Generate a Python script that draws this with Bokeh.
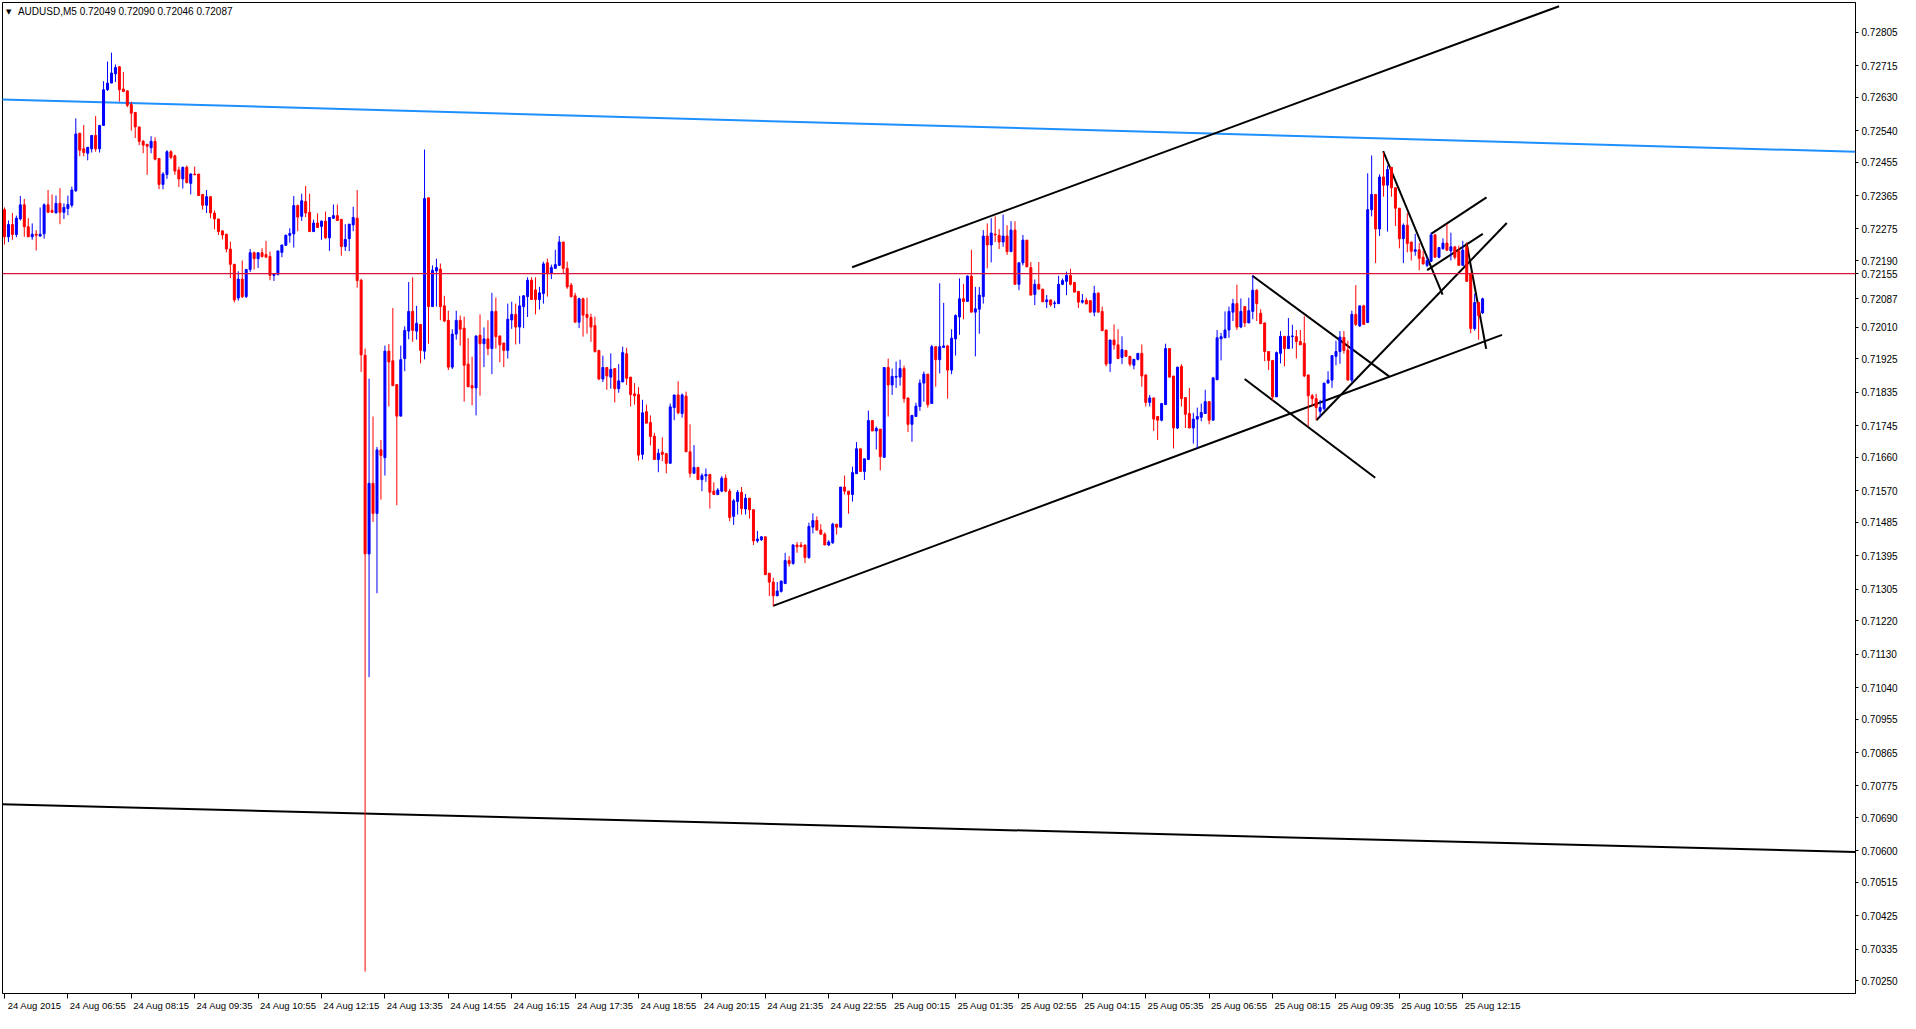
from bokeh.plotting import figure
from bokeh.models import (Range1d, FixedTicker, Label, ColumnDataSource,
                          NumeralTickFormatter, Span)
from bokeh.embed import file_html
from bokeh.resources import INLINE

symbol_title = "AUDUSD,M5  0.72049 0.72090 0.72046 0.72087"

opens = [
    0.72327, 0.72254, 0.72287, 0.72260, 0.72302, 0.72340, 0.72281, 0.72254, 0.72261, 0.72256, 0.72262, 0.72340, 0.72325, 0.72318, 0.72344, 0.72320,
    0.72330, 0.72339, 0.72378, 0.72533, 0.72491, 0.72479, 0.72491, 0.72527, 0.72491, 0.72554, 0.72650, 0.72668, 0.72693, 0.72712, 0.72652, 0.72647,
    0.72610, 0.72589, 0.72550, 0.72511, 0.72503, 0.72494, 0.72511, 0.72465, 0.72395, 0.72422, 0.72483, 0.72472, 0.72434, 0.72410, 0.72441, 0.72398,
    0.72423, 0.72423, 0.72368, 0.72339, 0.72362, 0.72318, 0.72302, 0.72270, 0.72261, 0.72221, 0.72180, 0.72089, 0.72140, 0.72093, 0.72166, 0.72211,
    0.72195, 0.72211, 0.72206, 0.72201, 0.72150, 0.72153, 0.72212, 0.72231, 0.72258, 0.72262, 0.72338, 0.72309, 0.72349, 0.72320, 0.72268, 0.72291,
    0.72282, 0.72296, 0.72251, 0.72304, 0.72311, 0.72301, 0.72228, 0.72249, 0.72286, 0.72304, 0.72137, 0.71935, 0.71400, 0.71590, 0.71509, 0.71680,
    0.71659, 0.71946, 0.71920, 0.71856, 0.71771, 0.71926, 0.72000, 0.72053, 0.72000, 0.72018, 0.71946, 0.72359, 0.72066, 0.72162, 0.72167, 0.72068,
    0.72029, 0.71903, 0.71992, 0.72029, 0.72008, 0.71911, 0.71853, 0.71847, 0.71989, 0.71966, 0.71979, 0.71953, 0.72053, 0.71987, 0.71968, 0.71948,
    0.72030, 0.72045, 0.72011, 0.72066, 0.72093, 0.72137, 0.72111, 0.72085, 0.72101, 0.72184, 0.72156, 0.72169, 0.72177, 0.72240, 0.72169, 0.72124,
    0.72095, 0.72024, 0.72087, 0.72045, 0.72037, 0.72015, 0.71948, 0.71871, 0.71902, 0.71876, 0.71899, 0.71845, 0.71863, 0.71939, 0.71876, 0.71831,
    0.71829, 0.71668, 0.71783, 0.71754, 0.71717, 0.71654, 0.71674, 0.71670, 0.71644, 0.71794, 0.71828, 0.71778, 0.71825, 0.71675, 0.71617, 0.71633,
    0.71600, 0.71610, 0.71614, 0.71569, 0.71560, 0.71569, 0.71604, 0.71569, 0.71501, 0.71541, 0.71566, 0.71521, 0.71550, 0.71519, 0.71435, 0.71438,
    0.71446, 0.71348, 0.71324, 0.71287, 0.71299, 0.71320, 0.71382, 0.71374, 0.71424, 0.71424, 0.71424, 0.71390, 0.71472, 0.71490, 0.71464, 0.71453,
    0.71424, 0.71430, 0.71480, 0.71472, 0.71580, 0.71569, 0.71560, 0.71616, 0.71683, 0.71622, 0.71654, 0.71759, 0.71731, 0.71736, 0.71660, 0.71902,
    0.71855, 0.71876, 0.71876, 0.71899, 0.71820, 0.71749, 0.71770, 0.71797, 0.71860, 0.71884, 0.71805, 0.71958, 0.71923, 0.71956, 0.71960, 0.71895,
    0.71979, 0.72038, 0.72087, 0.72080, 0.72148, 0.72051, 0.72059, 0.72093, 0.72256, 0.72232, 0.72261, 0.72258, 0.72240, 0.72256, 0.72214, 0.72272,
    0.72126, 0.72184, 0.72245, 0.72171, 0.72099, 0.72126, 0.72113, 0.72079, 0.72084, 0.72074, 0.72074, 0.72126, 0.72134, 0.72150, 0.72131, 0.72107,
    0.72078, 0.72083, 0.72082, 0.72051, 0.72102, 0.72053, 0.72003, 0.71913, 0.71976, 0.71963, 0.71929, 0.71948, 0.71932, 0.71908, 0.71924, 0.71940,
    0.71882, 0.71808, 0.71820, 0.71770, 0.71760, 0.71802, 0.71953, 0.71879, 0.71739, 0.71905, 0.71821, 0.71778, 0.71739, 0.71763, 0.71768, 0.71778,
    0.71810, 0.71760, 0.71869, 0.71979, 0.71982, 0.72003, 0.72051, 0.72074, 0.72011, 0.72066, 0.72022, 0.72053, 0.72110, 0.72048, 0.72022, 0.71945,
    0.71921, 0.71823, 0.71940, 0.71986, 0.71953, 0.71985, 0.71985, 0.71972, 0.71967, 0.71882, 0.71826, 0.71818, 0.71784, 0.71791, 0.71860, 0.71868,
    0.71932, 0.71945, 0.71983, 0.71949, 0.71868, 0.72045, 0.72014, 0.72068, 0.72023, 0.72327, 0.72368, 0.72275, 0.72415, 0.72393, 0.72441, 0.72386,
    0.72331, 0.72249, 0.72285, 0.72240, 0.72215, 0.72219, 0.72199, 0.72177, 0.72188, 0.72259, 0.72199, 0.72222, 0.72237, 0.72216, 0.72227, 0.72216,
    0.72177, 0.72227, 0.72156, 0.72007, 0.72077, 0.72049,
]

highs = [
    0.72333, 0.72298, 0.72318, 0.72311, 0.72364, 0.72356, 0.72304, 0.72290, 0.72272, 0.72333, 0.72344, 0.72380, 0.72368, 0.72365, 0.72385, 0.72344,
    0.72365, 0.72389, 0.72573, 0.72533, 0.72555, 0.72495, 0.72527, 0.72579, 0.72554, 0.72673, 0.72726, 0.72750, 0.72718, 0.72712, 0.72698, 0.72647,
    0.72618, 0.72589, 0.72550, 0.72515, 0.72504, 0.72525, 0.72522, 0.72465, 0.72428, 0.72487, 0.72487, 0.72475, 0.72443, 0.72443, 0.72446, 0.72425,
    0.72443, 0.72423, 0.72368, 0.72380, 0.72362, 0.72325, 0.72302, 0.72271, 0.72261, 0.72241, 0.72180, 0.72161, 0.72190, 0.72166, 0.72221, 0.72214,
    0.72211, 0.72223, 0.72243, 0.72214, 0.72156, 0.72216, 0.72232, 0.72260, 0.72277, 0.72364, 0.72341, 0.72370, 0.72391, 0.72370, 0.72300, 0.72317,
    0.72298, 0.72322, 0.72306, 0.72341, 0.72341, 0.72301, 0.72288, 0.72288, 0.72335, 0.72380, 0.72141, 0.71953, 0.71872, 0.71770, 0.71688, 0.71707,
    0.71961, 0.71965, 0.72062, 0.71856, 0.71961, 0.72013, 0.72132, 0.72145, 0.72068, 0.72018, 0.72489, 0.72359, 0.72177, 0.72195, 0.72182, 0.72095,
    0.72055, 0.72005, 0.72055, 0.72042, 0.72039, 0.71981, 0.71931, 0.71987, 0.72045, 0.72010, 0.72029, 0.72103, 0.72090, 0.71987, 0.71968, 0.72074,
    0.72079, 0.72074, 0.72095, 0.72097, 0.72145, 0.72145, 0.72145, 0.72119, 0.72187, 0.72195, 0.72179, 0.72219, 0.72256, 0.72240, 0.72187, 0.72130,
    0.72103, 0.72090, 0.72090, 0.72090, 0.72047, 0.72039, 0.71948, 0.71934, 0.71902, 0.71940, 0.71899, 0.71911, 0.71958, 0.71955, 0.71876, 0.71860,
    0.71849, 0.71815, 0.71802, 0.71773, 0.71726, 0.71683, 0.71714, 0.71672, 0.71805, 0.71828, 0.71865, 0.71832, 0.71837, 0.71749, 0.71693, 0.71633,
    0.71617, 0.71630, 0.71614, 0.71593, 0.71577, 0.71609, 0.71614, 0.71575, 0.71548, 0.71572, 0.71580, 0.71561, 0.71550, 0.71519, 0.71462, 0.71447,
    0.71446, 0.71348, 0.71336, 0.71324, 0.71327, 0.71403, 0.71394, 0.71426, 0.71432, 0.71432, 0.71424, 0.71484, 0.71509, 0.71501, 0.71480, 0.71458,
    0.71437, 0.71484, 0.71480, 0.71580, 0.71611, 0.71569, 0.71635, 0.71701, 0.71683, 0.71656, 0.71786, 0.71759, 0.71743, 0.71736, 0.71902, 0.71926,
    0.71899, 0.71918, 0.71923, 0.71907, 0.71820, 0.71773, 0.71807, 0.71870, 0.71891, 0.71884, 0.71963, 0.71958, 0.72129, 0.72076, 0.71963, 0.72005,
    0.72045, 0.72142, 0.72127, 0.72150, 0.72219, 0.72119, 0.72119, 0.72272, 0.72290, 0.72304, 0.72309, 0.72275, 0.72314, 0.72285, 0.72296, 0.72296,
    0.72184, 0.72259, 0.72245, 0.72186, 0.72139, 0.72186, 0.72113, 0.72097, 0.72084, 0.72082, 0.72149, 0.72142, 0.72160, 0.72168, 0.72131, 0.72107,
    0.72100, 0.72090, 0.72082, 0.72122, 0.72105, 0.72066, 0.72003, 0.71976, 0.72018, 0.72005, 0.71986, 0.71948, 0.71932, 0.71924, 0.71940, 0.71964,
    0.71882, 0.71828, 0.71820, 0.71770, 0.71805, 0.71966, 0.71953, 0.71879, 0.71903, 0.71911, 0.71821, 0.71847, 0.71780, 0.71794, 0.71805, 0.71842,
    0.71810, 0.71876, 0.72003, 0.71995, 0.72053, 0.72066, 0.72087, 0.72125, 0.72088, 0.72066, 0.72090, 0.72150, 0.72113, 0.72059, 0.72022, 0.71945,
    0.71921, 0.71945, 0.72000, 0.71986, 0.72035, 0.72017, 0.72003, 0.72003, 0.72040, 0.71882, 0.71831, 0.71831, 0.71815, 0.71860, 0.71892, 0.71934,
    0.71974, 0.72000, 0.72000, 0.71974, 0.72055, 0.72124, 0.72068, 0.72071, 0.72425, 0.72473, 0.72368, 0.72422, 0.72481, 0.72446, 0.72441, 0.72386,
    0.72331, 0.72290, 0.72318, 0.72240, 0.72262, 0.72237, 0.72216, 0.72199, 0.72265, 0.72262, 0.72225, 0.72250, 0.72289, 0.72265, 0.72227, 0.72230,
    0.72243, 0.72238, 0.72156, 0.72101, 0.72077, 0.72090,
]

lows = [
    0.72233, 0.72240, 0.72246, 0.72253, 0.72298, 0.72254, 0.72254, 0.72246, 0.72217, 0.72254, 0.72249, 0.72318, 0.72318, 0.72318, 0.72288, 0.72302,
    0.72312, 0.72333, 0.72375, 0.72471, 0.72471, 0.72460, 0.72481, 0.72483, 0.72481, 0.72554, 0.72647, 0.72668, 0.72671, 0.72618, 0.72645, 0.72603,
    0.72540, 0.72520, 0.72501, 0.72479, 0.72421, 0.72479, 0.72460, 0.72382, 0.72382, 0.72410, 0.72463, 0.72421, 0.72388, 0.72384, 0.72398, 0.72368,
    0.72421, 0.72364, 0.72327, 0.72318, 0.72304, 0.72274, 0.72259, 0.72247, 0.72212, 0.72143, 0.72077, 0.72082, 0.72089, 0.72089, 0.72159, 0.72166,
    0.72170, 0.72198, 0.72199, 0.72137, 0.72135, 0.72150, 0.72199, 0.72230, 0.72238, 0.72225, 0.72269, 0.72297, 0.72307, 0.72268, 0.72267, 0.72279,
    0.72246, 0.72249, 0.72216, 0.72302, 0.72297, 0.72203, 0.72216, 0.72215, 0.72269, 0.72117, 0.71890, 0.70275, 0.71068, 0.71486, 0.71294, 0.71546,
    0.71611, 0.71797, 0.71853, 0.71531, 0.71771, 0.71892, 0.71978, 0.71971, 0.71977, 0.71913, 0.71924, 0.71966, 0.72066, 0.72066, 0.72029, 0.72024,
    0.71895, 0.71898, 0.71977, 0.71961, 0.71810, 0.71850, 0.71800, 0.71773, 0.71826, 0.71903, 0.71935, 0.71884, 0.71953, 0.71916, 0.71903, 0.71926,
    0.72006, 0.71964, 0.71966, 0.72008, 0.72038, 0.72085, 0.72045, 0.72058, 0.72074, 0.72093, 0.72140, 0.72169, 0.72177, 0.72156, 0.72114, 0.72090,
    0.72024, 0.72008, 0.71985, 0.71993, 0.71971, 0.71942, 0.71868, 0.71863, 0.71842, 0.71845, 0.71808, 0.71834, 0.71863, 0.71855, 0.71797, 0.71802,
    0.71651, 0.71654, 0.71752, 0.71692, 0.71654, 0.71620, 0.71650, 0.71617, 0.71644, 0.71760, 0.71776, 0.71767, 0.71675, 0.71606, 0.71617, 0.71600,
    0.71569, 0.71594, 0.71522, 0.71560, 0.71558, 0.71566, 0.71566, 0.71488, 0.71478, 0.71506, 0.71506, 0.71506, 0.71495, 0.71424, 0.71430, 0.71435,
    0.71344, 0.71287, 0.71259, 0.71287, 0.71296, 0.71320, 0.71366, 0.71371, 0.71403, 0.71419, 0.71375, 0.71387, 0.71455, 0.71464, 0.71453, 0.71424,
    0.71421, 0.71427, 0.71452, 0.71472, 0.71560, 0.71508, 0.71541, 0.71616, 0.71622, 0.71599, 0.71654, 0.71731, 0.71681, 0.71625, 0.71660, 0.71770,
    0.71828, 0.71847, 0.71853, 0.71807, 0.71728, 0.71702, 0.71770, 0.71785, 0.71810, 0.71794, 0.71805, 0.71850, 0.71886, 0.71956, 0.71818, 0.71884,
    0.71934, 0.71990, 0.72032, 0.72080, 0.72051, 0.71932, 0.71993, 0.72074, 0.72169, 0.72185, 0.72240, 0.72221, 0.72227, 0.72205, 0.72214, 0.72126,
    0.72110, 0.72177, 0.72173, 0.72097, 0.72070, 0.72113, 0.72079, 0.72062, 0.72066, 0.72062, 0.72074, 0.72124, 0.72097, 0.72123, 0.72105, 0.72062,
    0.72074, 0.72073, 0.72051, 0.72040, 0.72051, 0.72001, 0.71905, 0.71890, 0.71950, 0.71926, 0.71911, 0.71932, 0.71905, 0.71897, 0.71921, 0.71850,
    0.71797, 0.71797, 0.71731, 0.71707, 0.71757, 0.71802, 0.71876, 0.71684, 0.71736, 0.71797, 0.71739, 0.71739, 0.71697, 0.71684, 0.71757, 0.71778,
    0.71749, 0.71760, 0.71869, 0.71921, 0.71982, 0.71982, 0.72027, 0.72003, 0.72008, 0.72011, 0.72022, 0.72032, 0.72027, 0.72020, 0.71919, 0.71895,
    0.71813, 0.71823, 0.71913, 0.71905, 0.71953, 0.71953, 0.71926, 0.71963, 0.71876, 0.71744, 0.71797, 0.71760, 0.71768, 0.71786, 0.71860, 0.71847,
    0.71908, 0.71912, 0.71939, 0.71868, 0.71861, 0.72014, 0.72011, 0.72018, 0.72023, 0.72309, 0.72183, 0.72256, 0.72362, 0.72268, 0.72362, 0.72283,
    0.72223, 0.72183, 0.72212, 0.72190, 0.72203, 0.72164, 0.72179, 0.72172, 0.72186, 0.72199, 0.72196, 0.72219, 0.72216, 0.72190, 0.72193, 0.72177,
    0.72177, 0.72134, 0.71994, 0.72001, 0.71977, 0.72046,
]

closes = [
    0.72254, 0.72287, 0.72260, 0.72304, 0.72340, 0.72281, 0.72254, 0.72261, 0.72258, 0.72261, 0.72340, 0.72320, 0.72320, 0.72344, 0.72320, 0.72333,
    0.72341, 0.72380, 0.72531, 0.72487, 0.72481, 0.72495, 0.72527, 0.72491, 0.72554, 0.72650, 0.72668, 0.72695, 0.72710, 0.72650, 0.72645, 0.72608,
    0.72587, 0.72550, 0.72511, 0.72501, 0.72498, 0.72511, 0.72463, 0.72395, 0.72423, 0.72483, 0.72468, 0.72431, 0.72410, 0.72441, 0.72400, 0.72423,
    0.72421, 0.72365, 0.72339, 0.72362, 0.72318, 0.72302, 0.72268, 0.72259, 0.72221, 0.72180, 0.72084, 0.72140, 0.72093, 0.72166, 0.72211, 0.72195,
    0.72211, 0.72201, 0.72199, 0.72150, 0.72155, 0.72216, 0.72232, 0.72258, 0.72263, 0.72338, 0.72307, 0.72351, 0.72318, 0.72268, 0.72291, 0.72279,
    0.72296, 0.72251, 0.72306, 0.72311, 0.72298, 0.72228, 0.72247, 0.72288, 0.72306, 0.72136, 0.71936, 0.71400, 0.71590, 0.71509, 0.71680, 0.71665,
    0.71946, 0.71917, 0.71853, 0.71771, 0.71923, 0.72002, 0.72053, 0.72002, 0.72021, 0.71948, 0.72357, 0.72066, 0.72164, 0.72171, 0.72066, 0.72027,
    0.71903, 0.71992, 0.72029, 0.72005, 0.71908, 0.71850, 0.71847, 0.71987, 0.71966, 0.71979, 0.71953, 0.72053, 0.71985, 0.71963, 0.71948, 0.72032,
    0.72045, 0.72011, 0.72068, 0.72095, 0.72137, 0.72085, 0.72085, 0.72103, 0.72181, 0.72156, 0.72171, 0.72179, 0.72240, 0.72169, 0.72119, 0.72093,
    0.72024, 0.72087, 0.72043, 0.72037, 0.72011, 0.71945, 0.71871, 0.71902, 0.71879, 0.71897, 0.71845, 0.71866, 0.71942, 0.71873, 0.71829, 0.71826,
    0.71666, 0.71780, 0.71752, 0.71716, 0.71654, 0.71671, 0.71668, 0.71644, 0.71796, 0.71828, 0.71780, 0.71828, 0.71675, 0.71617, 0.71633, 0.71600,
    0.71611, 0.71614, 0.71566, 0.71560, 0.71572, 0.71604, 0.71569, 0.71498, 0.71543, 0.71566, 0.71522, 0.71550, 0.71519, 0.71435, 0.71440, 0.71446,
    0.71344, 0.71324, 0.71287, 0.71300, 0.71327, 0.71382, 0.71374, 0.71424, 0.71419, 0.71419, 0.71390, 0.71474, 0.71490, 0.71464, 0.71453, 0.71424,
    0.71432, 0.71480, 0.71472, 0.71580, 0.71569, 0.71560, 0.71619, 0.71683, 0.71622, 0.71656, 0.71759, 0.71731, 0.71738, 0.71662, 0.71902, 0.71855,
    0.71878, 0.71878, 0.71899, 0.71818, 0.71749, 0.71773, 0.71798, 0.71860, 0.71884, 0.71802, 0.71958, 0.71923, 0.71958, 0.71960, 0.71895, 0.71981,
    0.72042, 0.72087, 0.72080, 0.72148, 0.72051, 0.72060, 0.72097, 0.72256, 0.72232, 0.72264, 0.72259, 0.72240, 0.72256, 0.72214, 0.72272, 0.72126,
    0.72184, 0.72245, 0.72173, 0.72097, 0.72126, 0.72113, 0.72079, 0.72084, 0.72071, 0.72076, 0.72126, 0.72136, 0.72150, 0.72126, 0.72105, 0.72078,
    0.72082, 0.72073, 0.72051, 0.72102, 0.72051, 0.72001, 0.71911, 0.71976, 0.71963, 0.71926, 0.71950, 0.71932, 0.71911, 0.71924, 0.71940, 0.71879,
    0.71808, 0.71820, 0.71763, 0.71760, 0.71805, 0.71953, 0.71876, 0.71739, 0.71903, 0.71818, 0.71776, 0.71739, 0.71763, 0.71770, 0.71781, 0.71810,
    0.71760, 0.71874, 0.71982, 0.71985, 0.72003, 0.72053, 0.72074, 0.72011, 0.72053, 0.72022, 0.72055, 0.72110, 0.72074, 0.72020, 0.71945, 0.71921,
    0.71823, 0.71942, 0.71986, 0.71953, 0.71986, 0.71987, 0.71972, 0.71963, 0.71879, 0.71826, 0.71818, 0.71794, 0.71794, 0.71860, 0.71868, 0.71934,
    0.71945, 0.71984, 0.71948, 0.71868, 0.72045, 0.72018, 0.72068, 0.72018, 0.72327, 0.72368, 0.72275, 0.72415, 0.72393, 0.72435, 0.72386, 0.72331,
    0.72249, 0.72285, 0.72236, 0.72215, 0.72219, 0.72196, 0.72181, 0.72190, 0.72259, 0.72199, 0.72225, 0.72237, 0.72218, 0.72227, 0.72199, 0.72177,
    0.72218, 0.72134, 0.72007, 0.72077, 0.72042, 0.72087,
]

# time axis: one label every 16 five-minute bars
time_tick_bars = [0, 16, 32, 48, 64, 80, 96, 112, 128, 144, 160, 176, 192, 208, 224, 240,
                  256, 272, 288, 304, 320, 336, 352, 368]
time_labels = ["24 Aug 2015", "24 Aug 06:55", "24 Aug 08:15", "24 Aug 09:35", "24 Aug 10:55",
               "24 Aug 12:15", "24 Aug 13:35", "24 Aug 14:55", "24 Aug 16:15", "24 Aug 17:35",
               "24 Aug 18:55", "24 Aug 20:15", "24 Aug 21:35", "24 Aug 22:55", "25 Aug 00:15",
               "25 Aug 01:35", "25 Aug 02:55", "25 Aug 04:15", "25 Aug 05:35", "25 Aug 06:55",
               "25 Aug 08:15", "25 Aug 09:35", "25 Aug 10:55", "25 Aug 12:15"]

# price scale labels (0.72100 is hidden behind the last-price label in the reference)
price_ticks = [0.70250, 0.70335, 0.70425, 0.70515, 0.70600, 0.70690, 0.70775, 0.70865, 0.70955,
               0.71040, 0.71130, 0.71220, 0.71305, 0.71395, 0.71485, 0.71570, 0.71660, 0.71745,
               0.71835, 0.71925, 0.72010, 0.72190, 0.72275, 0.72365, 0.72455, 0.72540,
               0.72630, 0.72715, 0.72805]

# drawn trend lines (bar index, price) pairs
trend_x0 = [193.95, 213.9, 314.9, 312.95, 331.05, 347.9, 359.0, 360.0, 368.95, -0.9]
trend_y0 = [0.71260, 0.72172, 0.72149, 0.71871, 0.71760, 0.72485, 0.72164, 0.72262, 0.72238, 0.70726]
trend_x1 = [377.9, 392.3, 349.4, 345.9, 379.1, 362.9, 373.05, 374.0, 373.9, 467.1]
trend_y1 = [0.71990, 0.72875, 0.71878, 0.71605, 0.72291, 0.72098, 0.72262, 0.72360, 0.71952, 0.70597]

blue_x0, blue_y0, blue_x1, blue_y1 = -0.9, 0.72624, 467.1, 0.72483

alert_level = 0.72155
last_price = 0.72087

X_START, X_END = -0.5, 467.1
Y_LOW, Y_HIGH = 0.70216, 0.72885
FONT = "Liberation Sans"
LABEL_SHIFT = 7.6    # bars: puts each centred time label just right of its tick mark

n = len(opens)
bars = list(range(n))
colors = ["#0000FF" if c >= o else "#FF0000" for o, c in zip(opens, closes)]
src = ColumnDataSource(dict(
    x=bars, high=highs, low=lows,
    top=[max(o, c) for o, c in zip(opens, closes)],
    bottom=[min(o, c) for o, c in zip(opens, closes)],
    color=colors,
))

p = figure(width=1900, height=1013, output_backend="svg", toolbar_location=None,
           x_range=Range1d(X_START, X_END), y_range=Range1d(Y_LOW, Y_HIGH),
           y_axis_location="right", x_axis_location="below",
           min_border_left=2, min_border_top=2, min_border_right=0, min_border_bottom=17)
p.grid.visible = False
p.outline_line_color = "black"
p.outline_line_width = 1
p.background_fill_color = "white"
p.border_fill_color = "white"

# y axis, with the alert level and last price labelled as well
yax = p.yaxis[0]
yax.ticker = FixedTicker(ticks=price_ticks + [alert_level, last_price])
yax.formatter = NumeralTickFormatter(format="0.00000")
yax.major_label_text_font = FONT
yax.major_label_text_font_size = "10px"
yax.major_label_text_color = "black"
yax.major_tick_out = 3
yax.major_tick_in = 0
yax.minor_tick_line_color = None
yax.major_label_standoff = 3
yax.axis_line_color = "black"

# x axis: tick marks at the bars (minor ticks), labels centred just right of them
label_pos = [round(b + LABEL_SHIFT, 2) for b in time_tick_bars]
xax = p.xaxis[0]
xax.ticker = FixedTicker(ticks=label_pos, minor_ticks=time_tick_bars)
xax.major_label_overrides = {pos: lab for pos, lab in zip(label_pos, time_labels)}
xax.major_tick_line_color = None
xax.major_tick_out = 2
xax.major_tick_in = 0
xax.minor_tick_line_color = "black"
xax.minor_tick_out = 5
xax.minor_tick_in = 0
xax.major_label_standoff = 1
xax.major_label_text_font = FONT
xax.major_label_text_font_size = "9.5px"
xax.major_label_text_color = "black"
xax.axis_line_color = "black"

# horizontal alert line
p.add_layout(Span(location=alert_level, dimension="width", line_color="#DC143C", line_width=1.2))

# blue and black trend lines
p.segment(x0=[blue_x0], y0=[blue_y0], x1=[blue_x1], y1=[blue_y1], line_color="#1E90FF", line_width=2)
p.segment(x0=trend_x0, y0=trend_y0, x1=trend_x1, y1=trend_y1, line_color="black", line_width=2)

# candles
p.segment(x0="x", y0="low", x1="x", y1="high", source=src, line_color="color", line_width=1)
p.vbar(x="x", width=0.5, top="top", bottom="bottom", source=src,
       fill_color="color", line_color="color", line_width=1)

# title text
p.add_layout(Label(x=0.4, y=Y_HIGH, text="\u25bc", text_font="DejaVu Sans",
                   text_font_size="7px", text_baseline="top", y_offset=-5, text_color="black"))
p.add_layout(Label(x=3.4, y=Y_HIGH, text=symbol_title, text_font=FONT,
                   text_font_size="10px", text_baseline="top", y_offset=-3, text_color="black"))

open("out.html", "w").write(file_html(p, INLINE))
